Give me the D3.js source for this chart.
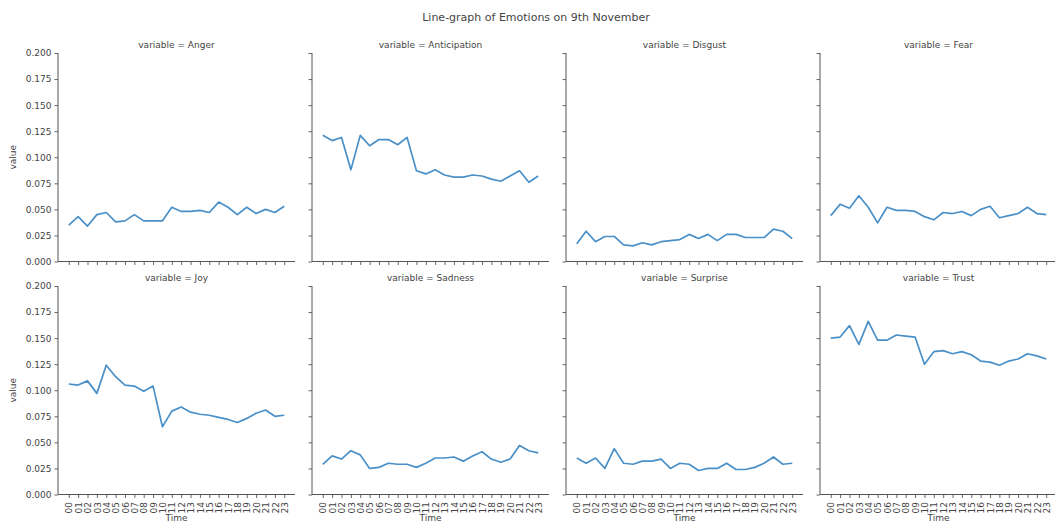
<!DOCTYPE html>
<html>
<head>
<meta charset="utf-8">
<script src="https://cdn.jsdelivr.net/npm/d3@7"></script>
<style>
  html, body { margin: 0; padding: 0; background: #fff; }
  text { font-family: "DejaVu Sans", sans-serif; fill: #444; }
</style>
</head>
<body>
<svg id="chart" width="1055" height="524"></svg>
<script>
// Hour-of-day labels on the x axis
const hours = ["00","01","02","03","04","05","06","07","08","09","10","11",
               "12","13","14","15","16","17","18","19","20","21","22","23"];

// Share of each emotion per hour
const anger        = [0.035,0.043,0.034,0.045,0.047,0.038,0.039,0.045,0.039,0.039,0.039,0.052,
                      0.048,0.048,0.049,0.047,0.057,0.052,0.045,0.052,0.046,0.050,0.047,0.053];
const anticipation = [0.121,0.116,0.119,0.088,0.121,0.111,0.117,0.117,0.112,0.119,0.087,0.084,
                      0.088,0.083,0.081,0.081,0.083,0.082,0.079,0.077,0.082,0.087,0.076,0.082];
const disgust      = [0.017,0.029,0.019,0.024,0.024,0.016,0.015,0.018,0.016,0.019,0.020,0.021,
                      0.026,0.022,0.026,0.020,0.026,0.026,0.023,0.023,0.023,0.031,0.029,0.022];
const fear         = [0.044,0.055,0.051,0.063,0.052,0.037,0.052,0.049,0.049,0.048,0.043,0.040,
                      0.047,0.046,0.048,0.044,0.050,0.053,0.042,0.044,0.046,0.052,0.046,0.045];
const joy          = [0.106,0.105,0.109,0.097,0.124,0.113,0.105,0.104,0.099,0.104,0.065,0.080,
                      0.084,0.079,0.077,0.076,0.074,0.072,0.069,0.073,0.078,0.081,0.075,0.076];
const sadness      = [0.029,0.037,0.034,0.042,0.038,0.025,0.026,0.030,0.029,0.029,0.026,0.030,
                      0.035,0.035,0.036,0.032,0.037,0.041,0.034,0.031,0.034,0.047,0.042,0.040];
const surprise     = [0.035,0.030,0.035,0.025,0.044,0.030,0.029,0.032,0.032,0.034,0.025,0.030,
                      0.029,0.023,0.025,0.025,0.030,0.024,0.024,0.026,0.030,0.036,0.029,0.030];
const trust        = [0.150,0.151,0.162,0.144,0.166,0.148,0.148,0.153,0.152,0.151,0.125,0.137,
                      0.138,0.135,0.137,0.134,0.128,0.127,0.124,0.128,0.130,0.135,0.133,0.130];

const emotionNames = ["Anger","Anticipation","Disgust","Fear","Joy","Sadness","Surprise","Trust"];
const yTicks = [0, 0.025, 0.05, 0.075, 0.1, 0.125, 0.15, 0.175, 0.2];

const seriesList = [anger, anticipation, disgust, fear, joy, sadness, surprise, trust];
const panels = emotionNames.map((name, i) => ({ name, values: seriesList[i], col: i % 4, row: Math.floor(i / 4) }));

const svg = d3.select("#chart");

// Facet grid geometry
const colLeft = [58, 312, 566, 820];
const rowTop = [53, 286];
const pw = 237, ph = 208.5;

// Categorical x with 5% padding on each side
const n = hours.length;
const pad = (n - 1) * 0.05;
const x = d3.scaleLinear().domain([-pad, n - 1 + pad]).range([0, pw]);
const y = d3.scaleLinear().domain([0, 0.2]).range([ph, 0]);

svg.append("text")
  .attr("x", 536).attr("y", 21)
  .attr("text-anchor", "middle")
  .style("font-size", "11px")
  .text("Line-graph of Emotions on 9th November");

const line = d3.line()
  .x((d, i) => x(i))
  .y(d => y(d));

panels.forEach(p => {
  const g = svg.append("g")
    .attr("transform", `translate(${colLeft[p.col]},${rowTop[p.row]})`);

  // y axis
  const yAxis = d3.axisLeft(y).tickValues(yTicks).tickSize(3.5).tickPadding(3)
    .tickFormat(p.col === 0 ? d3.format(".3f") : "");
  const ya = g.append("g").call(yAxis);

  // x axis
  const xAxis = d3.axisBottom(x).tickValues(d3.range(n)).tickSize(3.5).tickPadding(3)
    .tickFormat(p.row === 1 ? (d => hours[d]) : "");
  const xa = g.append("g").attr("transform", `translate(0,${ph})`).call(xAxis);

  [ya, xa].forEach(a => {
    a.select(".domain").attr("stroke", "#555").attr("stroke-width", 1);
    a.selectAll(".tick line").attr("stroke", "#555").attr("stroke-width", 0.9);
    a.selectAll(".tick text").style("font-size", "9px").attr("fill", "#444")
      .style("font-family", "DejaVu Sans, sans-serif");
  });
  // plain spines without end caps
  ya.select(".domain").attr("d", `M0,${ph}V0`);
  xa.select(".domain").attr("d", `M0,0H${pw}`);

  if (p.row === 1) {
    xa.selectAll(".tick text")
      .attr("transform", "rotate(-90)")
      .attr("text-anchor", "end")
      .attr("x", -7.5).attr("y", 0).attr("dy", "0.35em");
    g.append("text")
      .attr("x", pw / 2).attr("y", ph + 26.5)
      .attr("text-anchor", "middle")
      .style("font-size", "9px")
      .text("Time");
  }
  if (p.col === 0) {
    g.append("text")
      .attr("transform", `translate(-42,${ph / 2}) rotate(-90)`)
      .attr("text-anchor", "middle")
      .style("font-size", "9px")
      .text("value");
  }

  g.append("text")
    .attr("x", pw / 2).attr("y", -5)
    .attr("text-anchor", "middle")
    .style("font-size", "9px")
    .text(`variable = ${p.name}`);

  g.append("path")
    .datum(p.values)
    .attr("fill", "none")
    .attr("stroke", "#4a90c8")
    .attr("stroke-width", 1.7)
    .attr("stroke-linejoin", "round")
    .attr("d", line);
});
</script>
</body>
</html>
